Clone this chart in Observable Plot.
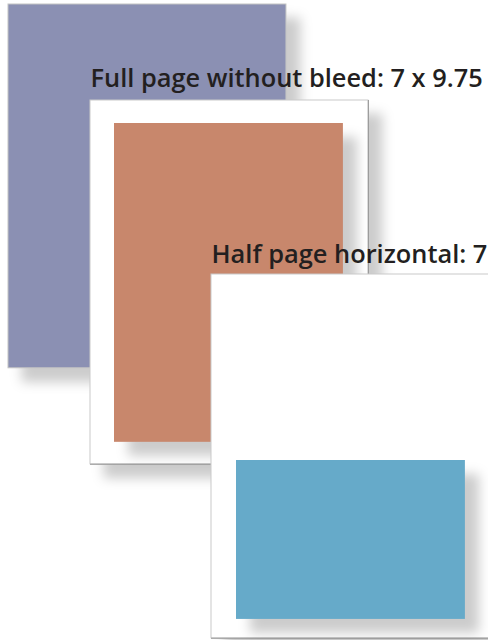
<!DOCTYPE html>
<html><head><meta charset="utf-8">
<script src="https://cdn.jsdelivr.net/npm/d3@7"></script>
<script src="https://cdn.jsdelivr.net/npm/@observablehq/plot@0.6"></script>
<style>
body{margin:0;background:#fff}
g[aria-description="shadow"]{filter:drop-shadow(14px 14px 6px rgba(0,0,0,0.2))}
</style></head><body><div id="chart"></div>
<script>
// ---- data (inches) ----
const pageSize = [8.5, 11.125];              // trim page incl. bleed
const adLabels = ["Full page without bleed: 7 x 9.75", "Half page horizontal: 7"];
const adWidths = [7, 7];
const adHeights = [9.75, 4.86];
const adColors = ["#c8876c", "#66aac9"];
const bleedColor = "#8b90b3";

// ---- layout (pixels) ----
const S = 32.7; // pixels per inch
const bleedOrigin = [8, 4];
const pageOrigins = [[90, 100], [211, 274]];
const adOffsets = [[24, 23], [25, 186]];
const labelOffsets = [-21.5, -19.5];

const bleed = [{x1: bleedOrigin[0] / S, y1: bleedOrigin[1] / S,
  x2: bleedOrigin[0] / S + pageSize[0], y2: bleedOrigin[1] / S + pageSize[1]}];
const pages = pageOrigins.map(([px, py]) => ({
  x1: px / S, y1: py / S, x2: px / S + pageSize[0], y2: py / S + pageSize[1]}));
const ads = adLabels.map((label, i) => ({
  label, fill: adColors[i],
  x1: pages[i].x1 + adOffsets[i][0] / S, y1: pages[i].y1 + adOffsets[i][1] / S,
  x2: pages[i].x1 + adOffsets[i][0] / S + adWidths[i],
  y2: pages[i].y1 + adOffsets[i][1] / S + adHeights[i],
  lx: pages[i].x1, ly: pages[i].y1 + labelOffsets[i] / S}));

function pageMarks(i) {
  const p = [pages[i]];
  return [
    Plot.rect(p, {x1: "x1", x2: "x2", y1: "y1", y2: "y2", fill: "#fff", stroke: "#c9c9c9", ariaDescription: "shadow"}),
    Plot.ruleX(p, {x: "x2", y1: "y1", y2: "y2", stroke: "#9a9a9a"}),
    Plot.ruleY(p, {y: "y2", x1: "x1", x2: "x2", stroke: "#9a9a9a"}),
    Plot.rect([ads[i]], {x1: "x1", x2: "x2", y1: "y1", y2: "y2", fill: "fill", ariaDescription: "shadow"})
  ];
}
function labelMark(i) {
  return Plot.text([ads[i]], {x: "lx", y: "ly", text: "label", textAnchor: "start",
    fontSize: 25.4, fontWeight: 600, fill: "#231f20", fontFamily: "Open Sans"});
}

const chart = Plot.plot({
  width: 488, height: 640, margin: 0,
  x: {domain: [0, 488 / S], range: [0, 488], axis: null},
  y: {domain: [0, 640 / S], range: [0, 640], axis: null},
  style: {background: "#fff"},
  marks: [
    Plot.rect(bleed, {x1: "x1", x2: "x2", y1: "y1", y2: "y2", fill: bleedColor, stroke: "#c4c4c4", ariaDescription: "shadow"}),
    labelMark(0),
    ...pageMarks(0),
    labelMark(1),
    ...pageMarks(1)
  ]
});
document.getElementById("chart").appendChild(chart);
</script></body></html>
